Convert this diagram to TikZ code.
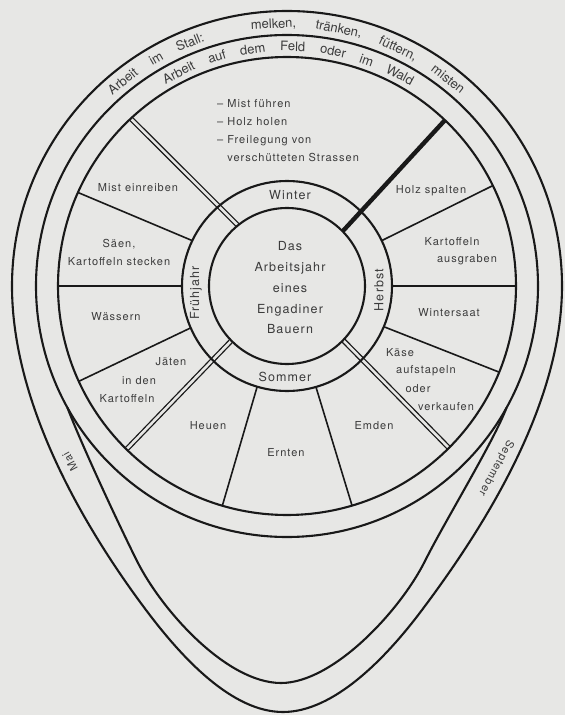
\documentclass[tikz,border=0pt]{standalone}
\usepackage{fontspec}
\setmainfont{TeX Gyre Heros}
\newfontfamily\lblfont[LetterSpace=9]{TeX Gyre Heros}
\definecolor{paper}{RGB}{231,231,229}
\definecolor{ink}{RGB}{25,25,25}

\begin{document}
\begin{tikzpicture}[x=1pt,y=1pt,
  rim/.style={ink,line width=2.1pt},
  spoke/.style={ink,line width=1.6pt},
  seam/.style={ink,line width=1.3pt,double=paper,double distance=2.6pt},
  lbl/.style={text=ink!85,font=\lblfont\fontsize{11}{18}\selectfont,inner sep=0pt,align=center},
  season/.style={text=ink!85,font=\lblfont\fontsize{12.5}{20.75}\selectfont,inner sep=0pt,align=center},
  bandword/.style={text=ink!85,font=\fontsize{13}{15}\selectfont,inner sep=0pt,anchor=base}]
  \fill[paper] (-287,-429) rectangle (278,286);
  % spokes between the jobs
  \foreach \a/\b in {154.4/155.9,180/180,203.5/204.6,253.5/253.6,286/286.5,337.2/337.9,0/0,25.6/26}
    \draw[spoke] (\a:105) -- (\b:229);
  \foreach \a/\b in {129/133,224.5/225.5,316/315}
    \draw[seam] (\a:78) -- (\b:229);
  \draw[ink,line width=4.4pt] (44.5:78) -- (46.4:229);
  % rings
  \draw[rim] (0,0) circle[radius=78];
  \draw[rim] (0,0) circle[radius=105];
  \draw[rim] (0,0) circle[radius=229];
  \draw[rim] (0,0) circle[radius=251];
  % outer loop and inner loop
  \draw[rim] (-275,0) arc[start angle=180,end angle=0,radius=275]
    .. controls (275,-120) and (195,-244) .. (135,-324)
    .. controls (99,-372) and (47,-426) .. (-4,-426)
    .. controls (-55,-426) and (-105,-372) .. (-141,-324)
    .. controls (-201,-244) and (-275,-120) .. (-275,0) -- cycle;
  \draw[rim] (209:251) .. controls (-207,-155) and (-170,-235) .. (-150,-275)
    .. controls (-125,-325) and (-60,-397) .. (-6,-397)
    .. controls (46,-397) and (113,-325) .. (138,-275)
    .. controls (158,-235) and (207,-155) .. (331:251);
  % words round the bands
  \foreach \w/\a [count=\i] in {Arbeit/128.7,im/119.9,{Stall:}/111.7,{melken,}/92.95,
      {tränken,}/78.6,{füttern,}/64.9,misten/52.1}
    \node[bandword,rotate=\a-90] (stall\i) at (\a:258) {\w};
  \foreach \w/\a [count=\i] in {Arbeit/116.86,auf/107.03,dem/98.26,Feld/88.61,
      oder/78.88,im/70.56,Wald/61.81}
    \node[bandword,rotate=\a-90] (feld\i) at (\a:235) {\w};
  \node[lbl,rotate=118] (mai) at (-217,-176) {Mai};
  \node[lbl,rotate=241.5] (sept) at (209,-182) {September};
  % jobs
  \node[lbl,anchor=west,align=left] (winterjobs) at (-70,155)
    {–\ Mist führen\\–\ Holz holen\\–\ Freilegung von\\\phantom{–\ }verschütteten Strassen};
  \node[lbl] (mist) at (-149,98) {Mist einreiben};
  \node[lbl] (saeen) at (-168,34) {Säen,\\Kartoffeln stecken};
  \node[lbl] (waessern) at (-171,-31) {Wässern};
  \node[lbl] (jaeten) at (-116,-76) {Jäten};
  \node[lbl] (inden) at (-148,-95) {in den};
  \node[lbl] (kartl) at (-160,-113) {Kartoffeln};
  \node[lbl] (heuen) at (-79,-140) {Heuen};
  \node[lbl] (ernten) at (-1,-167) {Ernten};
  \node[lbl] (emden) at (87,-140) {Emden};
  \node[lbl] (kaese) at (113,-67) {Käse};
  \node[lbl] (aufst) at (139,-85) {aufstapeln};
  \node[lbl] (oder) at (131,-103) {oder};
  \node[lbl] (verk) at (159,-121) {verkaufen};
  \node[lbl] (wsaat) at (162,-27) {Wintersaat};
  \node[lbl] (kartr) at (165,44) {Kartoffeln};
  \node[lbl] (ausgr) at (180,26) {ausgraben};
  \node[lbl] (holz) at (144,95) {Holz spalten};
  % seasons
  \node[season] (winter) at (3,91) {Winter};
  \node[season] (sommer) at (-2,-91) {Sommer};
  \node[season,rotate=90] (fruehjahr) at (-91,-7) {Frühjahr};
  \node[season,rotate=90] (herbst) at (92,-4) {Herbst};
  \node[season] (title) at (3,-2) {Das\\Arbeitsjahr\\eines\\Engadiner\\Bauern};
\end{tikzpicture}
\end{document}
